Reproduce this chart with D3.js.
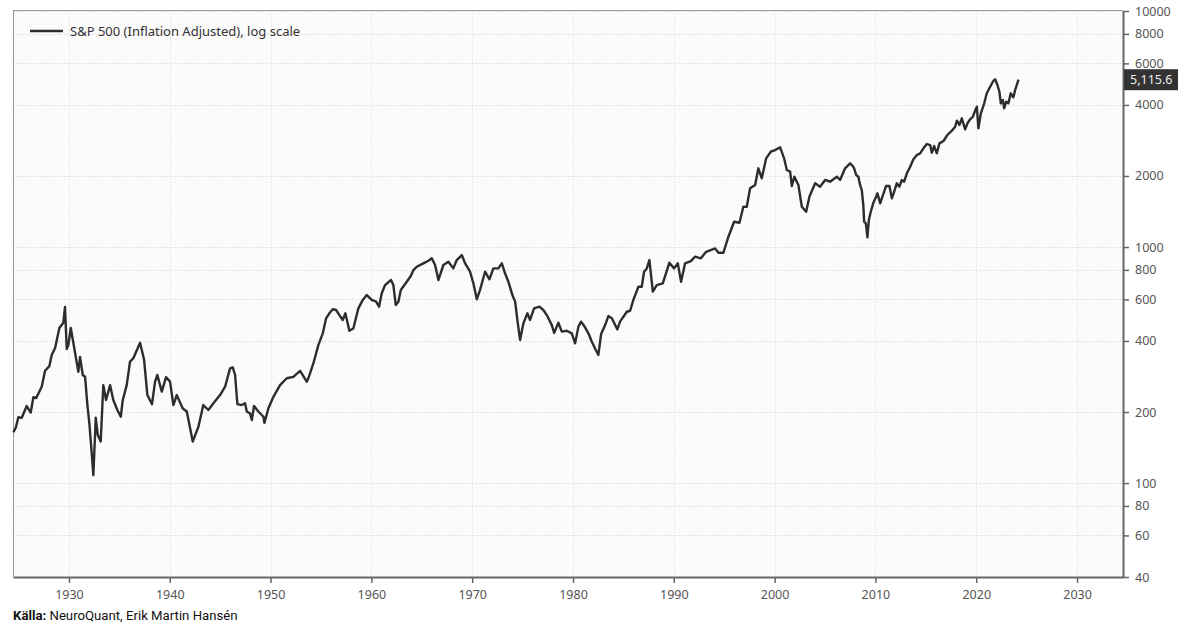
<!DOCTYPE html>
<html>
<head>
<meta charset="utf-8">
<script src="https://cdn.jsdelivr.net/npm/d3@7/dist/d3.min.js"></script>
<style>
  html, body { margin: 0; padding: 0; background: #ffffff; }
  svg { display: block; }
</style>
</head>
<body>
<svg id="chart" width="1183" height="633"></svg>
<script>
// ---- Data ----
const years = [
  1924.5,1924.75,1924.98,1925.32,1925.81,1926.21,1926.47,1926.74,1927.30,1927.63,
  1928.06,1928.29,1928.62,1929.05,1929.44,1929.61,1929.78,1929.94,1930.18,1930.44,
  1930.93,1931.10,1931.37,1931.60,1931.83,1932.02,1932.26,1932.42,1932.66,1932.86,
  1933.15,1933.41,1933.68,1934.08,1934.40,1934.80,1935.14,1935.34,1935.73,1936.06,
  1936.39,1937.05,1937.45,1937.78,1938.24,1938.54,1938.77,1939.21,1939.63,1940.03,
  1940.36,1940.69,1941.29,1941.69,1942.28,1942.84,1943.33,1943.83,1944.33,1944.99,
  1945.49,1945.98,1946.25,1946.48,1946.71,1947.14,1947.47,1947.64,1947.97,1948.14,
  1948.36,1948.79,1949.29,1949.39,1949.78,1950.28,1950.94,1951.61,1952.26,1952.93,
  1953.59,1953.75,1954.25,1954.74,1955.18,1955.51,1955.83,1956.17,1956.50,1956.83,
  1957.16,1957.42,1957.82,1958.21,1958.71,1959.15,1959.54,1960.04,1960.47,1960.76,
  1961.03,1961.36,1961.95,1962.18,1962.42,1962.68,1962.92,1963.51,1963.91,1964.17,
  1964.50,1965.16,1965.66,1965.99,1966.32,1966.65,1967.14,1967.64,1968.13,1968.47,
  1968.97,1969.30,1969.79,1970.12,1970.46,1970.78,1971.28,1971.71,1972.10,1972.60,
  1972.94,1973.26,1973.59,1973.99,1974.26,1974.48,1974.75,1975.08,1975.48,1975.74,
  1976.14,1976.67,1977.06,1977.40,1977.90,1978.13,1978.55,1978.89,1979.38,1979.88,
  1980.21,1980.54,1980.80,1981.20,1981.53,1981.87,1982.19,1982.52,1982.79,1983.19,
  1983.51,1983.85,1984.40,1984.67,1985.34,1985.67,1985.99,1986.49,1986.82,1987.05,
  1987.32,1987.58,1987.92,1988.31,1988.91,1989.56,1990.03,1990.40,1990.72,1991.12,
  1991.69,1992.11,1992.68,1993.21,1994.10,1994.43,1994.92,1995.42,1995.98,1996.51,
  1996.90,1997.24,1997.57,1998.07,1998.39,1998.73,1999.16,1999.62,2000.05,2000.55,
  2000.94,2001.21,2001.54,2001.71,2001.96,2002.36,2002.70,2003.13,2003.45,2004.02,
  2004.51,2005.01,2005.50,2006.17,2006.50,2006.99,
  2007.49,2007.76,2007.89,2008.09,2008.31,2008.48,2008.65,2008.81,2008.88,2009.05,
  2009.21,2009.35,2009.54,2009.80,2010.07,2010.20,2010.47,2010.70,2011.06,2011.39,
  2011.63,2011.86,2012.12,2012.38,2012.62,2012.85,2013.12,2013.45,2013.77,2014.11,
  2014.44,2014.76,2015.10,2015.43,2015.60,2015.82,2016.09,2016.35,2016.75,2017.14,
  2017.58,2017.91,2018.08,2018.33,2018.57,2018.90,2019.13,2019.40,2019.67,2019.89,
  2020.06,2020.22,2020.46,2020.79,2021.05,2021.38,2021.71,2021.88,2022.10,2022.30,
  2022.44,2022.64,2022.77,2022.97,2023.19,2023.43,2023.69,2023.86,2024.19
];
const spxReal = [
  164,173,190,189,212,199,231,229,256,299,
  313,349,373,454,478,558,370,384,454,392,
  296,342,287,282,214,180,134,108,189,160,
  150,260,225,260,225,204,191,225,260,327,
  338,393,334,236,216,269,287,244,281,269,
  214,236,207,201,150,173,214,204,218,236,
  256,306,309,287,216,214,218,201,197,185,
  212,201,191,180,207,232,260,278,282,299,
  269,278,322,384,431,499,524,545,541,515,
  491,524,442,452,550,597,626,597,587,559,
  637,690,725,690,568,587,658,713,754,799,
  825,853,875,896,839,725,839,866,812,881,
  925,853,786,702,601,658,786,730,812,812,
  853,774,713,626,587,491,404,475,524,491,
  550,559,541,515,467,433,478,438,442,431,
  391,460,483,457,431,397,372,349,428,467,
  510,499,448,483,532,537,597,679,679,786,
  812,881,647,690,702,858,812,853,713,853,
  872,910,896,955,987,946,946,1106,1280,1268,
  1482,1482,1774,1832,2155,1955,2376,2534,2576,2645,
  2376,2120,2086,1814,1986,1832,1482,1411,1634,1862,
  1802,1923,1892,1986,1923,2155,
  2263,2204,2155,2019,1986,1832,1744,1482,1280,1260,
  1099,1301,1411,1541,1634,1689,1532,1634,1814,1814,
  1609,1715,1862,1802,1923,1892,2053,2189,2353,2453,
  2495,2619,2731,2705,2510,2679,2495,2750,2813,2983,
  3111,3233,3430,3288,3511,3153,3344,3477,3566,3780,
  3931,3184,3686,4064,4480,4778,5066,5136,4857,4550,
  4064,4197,3870,4128,4064,4480,4309,4627,5115.6
];
const yTickValues = [40, 60, 80, 100, 200, 400, 600, 800, 1000, 2000, 4000, 6000, 8000, 10000];
const xTickValues = [1930, 1940, 1950, 1960, 1970, 1980, 1990, 2000, 2010, 2020, 2030];
const seriesLabel = "S&P 500 (Inflation Adjusted), log scale";
const lastValueLabel = "5,115.6";
const sourceBold = "Källa:";
const sourceText = " NeuroQuant, Erik Martin Hansén";

// ---- Layout ----
const svg = d3.select("#chart");
const plot = { left: 13, right: 1123, top: 10, bottom: 577 };

const x = d3.scaleLinear().domain([1924.45, 2034.56]).range([plot.left, plot.right]);
const y = d3.scaleLog().domain([40, 10000]).range([plot.bottom, 11]);

const data = years.map((yr, i) => ({ yr, v: spxReal[i] }));

// plot background
svg.append("rect")
  .attr("x", plot.left).attr("y", plot.top)
  .attr("width", plot.right - plot.left).attr("height", plot.bottom - plot.top)
  .attr("fill", "#fbfbfb");

// grid
const grid = svg.append("g");
grid.selectAll("line.h").data(yTickValues.filter(v => v > 40)).enter().append("line")
  .attr("x1", plot.left).attr("x2", plot.right)
  .attr("y1", d => Math.round(y(d)) + 0.5).attr("y2", d => Math.round(y(d)) + 0.5)
  .attr("stroke", "#dcdcdc").attr("stroke-width", 1).attr("stroke-dasharray", "1.5,1.5");
grid.selectAll("line.v").data(xTickValues).enter().append("line")
  .attr("y1", plot.top).attr("y2", plot.bottom)
  .attr("x1", d => Math.round(x(d)) + 0.5).attr("x2", d => Math.round(x(d)) + 0.5)
  .attr("stroke", "#e4e4e4").attr("stroke-width", 1).attr("stroke-dasharray", "1.5,1.5");

// frame: top + left light gray
svg.append("line").attr("x1", plot.left).attr("x2", plot.right)
  .attr("y1", plot.top + 0.5).attr("y2", plot.top + 0.5)
  .attr("stroke", "#9a9a9a").attr("stroke-width", 1);
svg.append("line").attr("x1", plot.left + 0.5).attr("x2", plot.left + 0.5)
  .attr("y1", plot.top).attr("y2", plot.bottom)
  .attr("stroke", "#9a9a9a").attr("stroke-width", 1);

// axes
const axisFont = "'Noto Sans', 'Open Sans', sans-serif";
const yAxis = d3.axisRight(y).tickValues(yTickValues).tickFormat(d3.format("d"))
  .tickSize(6).tickSizeOuter(0).tickPadding(6);
const gy = svg.append("g").attr("transform", `translate(${plot.right},0)`).call(yAxis);
gy.select(".domain").attr("stroke", "#666").attr("stroke-width", 2);
gy.selectAll(".tick line").attr("stroke", "#666").attr("stroke-width", 1.5);
gy.selectAll(".tick text").attr("fill", "#555").attr("font-size", 12.5)
  .attr("font-family", axisFont);

const xAxis = d3.axisBottom(x).tickValues(xTickValues).tickFormat(d3.format("d"))
  .tickSize(6).tickSizeOuter(0).tickPadding(7);
const gx = svg.append("g").attr("transform", `translate(0,${plot.bottom})`).call(xAxis);
gx.select(".domain").attr("stroke", "#666").attr("stroke-width", 2);
gx.selectAll(".tick line").attr("stroke", "#666").attr("stroke-width", 1.5);
gx.selectAll(".tick text").attr("fill", "#555").attr("font-size", 12.5)
  .attr("font-family", axisFont);

// series line
const line = d3.line().x(d => x(d.yr)).y(d => y(d.v)).curve(d3.curveLinear);
svg.append("path").datum(data)
  .attr("d", line)
  .attr("fill", "none")
  .attr("stroke", "#2d2d2d")
  .attr("stroke-width", 2.4)
  .attr("stroke-linejoin", "round");

// last value label
const last = data[data.length - 1];
const ly = y(last.v);
svg.append("rect").attr("x", plot.right + 1).attr("y", ly - 10.5)
  .attr("width", 54).attr("height", 21).attr("fill", "#333");
svg.append("text").attr("x", plot.right + 7).attr("y", ly + 4.5)
  .attr("fill", "#eeeeee").attr("font-size", 12.5).attr("font-family", axisFont)
  .text(lastValueLabel);

// legend
svg.append("line").attr("x1", 30).attr("x2", 63).attr("y1", 31).attr("y2", 31)
  .attr("stroke", "#2d2d2d").attr("stroke-width", 2.5);
svg.append("text").attr("x", 70).attr("y", 35.5)
  .attr("fill", "#333").attr("font-size", 13).attr("font-family", axisFont)
  .text(seriesLabel);

// source
const src = svg.append("text").attr("x", 13).attr("y", 620)
  .attr("fill", "#111").attr("font-size", 13.2).attr("font-family", "Roboto, sans-serif");
src.append("tspan").attr("font-weight", "bold").text(sourceBold);
src.append("tspan").text(sourceText);
</script>
</body>
</html>
